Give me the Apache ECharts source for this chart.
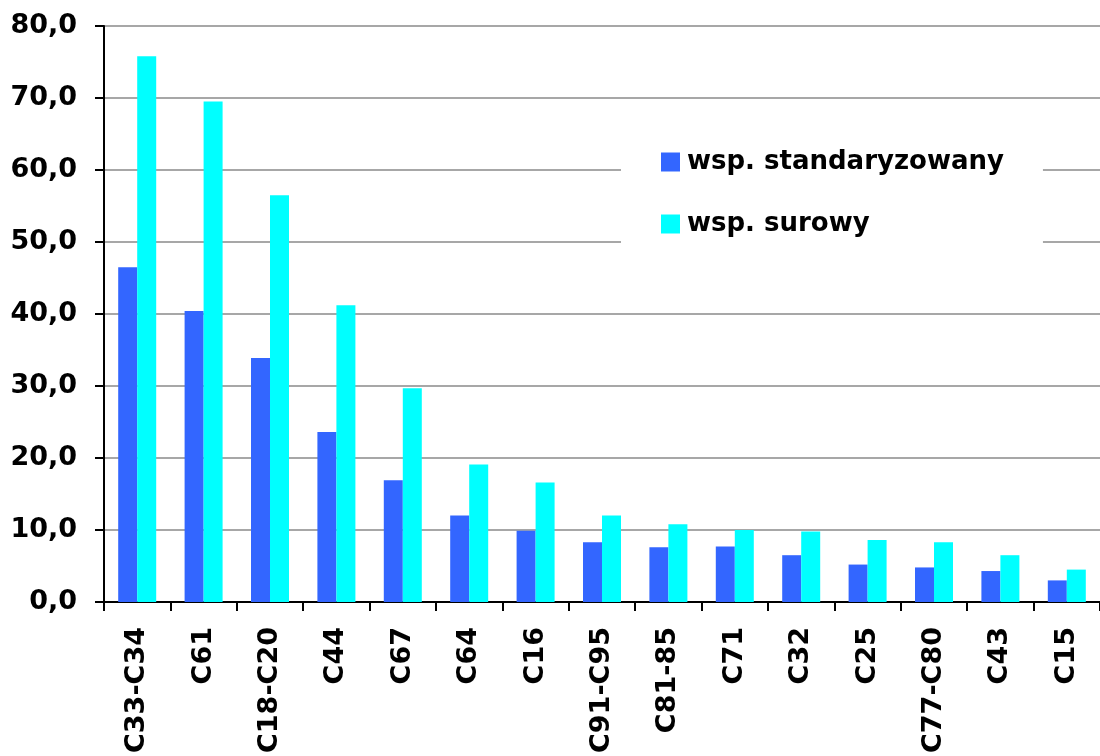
<!DOCTYPE html>
<html>
<head>
<meta charset="utf-8">
<script src="https://cdn.jsdelivr.net/npm/echarts@6/dist/echarts.min.js"></script>
<style>
html,body{margin:0;padding:0;background:#fff;}
#chart{width:1100px;height:756px;}
</style>
</head>
<body>
<div id="chart"></div>
<script>
const categories = ['C33-C34','C61','C18-C20','C44','C67','C64','C16','C91-C95','C81-85','C71','C32','C25','C77-C80','C43','C15'];
const standardized = [46.5, 40.4, 33.9, 23.6, 16.9, 12.0, 9.9, 8.3, 7.6, 7.7, 6.5, 5.2, 4.8, 4.3, 3.0];
const raw = [75.8, 69.5, 56.5, 41.2, 29.7, 19.1, 16.6, 12.0, 10.8, 10.0, 9.8, 8.6, 8.3, 6.5, 4.5];
const seriesNames = ['wsp. standaryzowany', 'wsp. surowy'];
const yTicks = {min: 0, max: 80, interval: 10};

const FONT = 'DejaVu Sans';
const chart = echarts.init(document.getElementById('chart'));
chart.setOption({
  animation: false,
  backgroundColor: '#ffffff',
  grid: {left: 104, top: 26, width: 1007, height: 576, containLabel: false},
  legend: {
    orient: 'vertical',
    left: 621, top: 121,
    padding: [28, 39, 28, 40],
    backgroundColor: '#ffffff',
    itemWidth: 19, itemHeight: 19, itemGap: 36,
    icon: 'rect',
    textStyle: {fontFamily: FONT, fontWeight: 'bold', fontSize: 26, color: '#000', padding: [0,0,0,2]},
    data: seriesNames
  },
  xAxis: {
    type: 'category',
    data: categories,
    axisLine: {lineStyle: {color: '#000', width: 2}},
    axisTick: {show: true, length: 9, lineStyle: {color: '#000', width: 2}},
    axisLabel: {rotate: 90, margin: 25, interval: 0, fontFamily: FONT, fontWeight: 'bold', fontSize: 27, color: '#000'}
  },
  yAxis: {
    type: 'value',
    min: yTicks.min, max: yTicks.max, interval: yTicks.interval,
    axisLine: {show: true, lineStyle: {color: '#000', width: 2}},
    axisTick: {show: true, length: 9, lineStyle: {color: '#000', width: 2}},
    splitLine: {lineStyle: {color: '#8a8a8a', width: 1.5}},
    axisLabel: {margin: 27, fontFamily: FONT, fontWeight: 'bold', fontSize: 27, color: '#000',
      formatter: v => v.toFixed(1).replace('.', ',')}
  },
  series: [
    {name: seriesNames[0], type: 'bar', data: standardized, barWidth: 19, barGap: '0%', itemStyle: {color: '#3366FF'}},
    {name: seriesNames[1], type: 'bar', data: raw, barWidth: 19, barGap: '0%', itemStyle: {color: '#00FFFF'}}
  ]
});
</script>
</body>
</html>
